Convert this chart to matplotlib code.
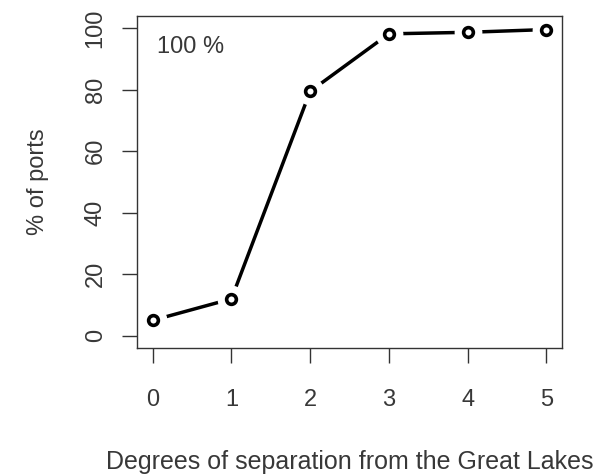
import matplotlib
matplotlib.use('Agg')
import matplotlib.pyplot as plt

# degrees of separation vs cumulative % of ports
degrees = [0, 1, 2, 3, 4, 5]
pct_ports = [5.0, 12.0, 79.5, 98.2, 98.7, 99.6]
x_ticks = [0, 1, 2, 3, 4, 5]
y_ticks = [0, 20, 40, 60, 80, 100]

plt.rcParams['font.family'] = ['Liberation Sans', 'DejaVu Sans']
txt_col = '#383838'

fig = plt.figure(figsize=(6.07, 4.74), dpi=100)
ax = fig.add_axes([0.2257, 0.2658, 0.7002, 0.7004])

# line, then white discs to cut gaps (R type="b"), then open circles
ax.plot(degrees, pct_ports, color='black', lw=2.5, solid_capstyle='butt', zorder=1)
ax.plot(degrees, pct_ports, ls='none', marker='o', ms=20, mfc='white', mec='none', zorder=2)
ax.plot(degrees, pct_ports, ls='none', marker='o', ms=7, mfc='white',
        mec='black', mew=2.6, zorder=3)

ax.set_xlim(-0.2, 5.2)
ax.set_ylim(-4, 104)
ax.set_xticks(x_ticks)
ax.set_yticks(y_ticks)
ax.set_yticklabels([str(v) for v in y_ticks], rotation=90, va='center')

for side in ax.spines.values():
    side.set_color('#333333')
    side.set_linewidth(1.0)
ax.tick_params(axis='both', length=10.8, width=1.0, color='#333333',
               labelsize=17, labelcolor=txt_col)
ax.tick_params(axis='x', pad=18.5)
ax.tick_params(axis='y', pad=11)

ax.text(0.06, 94, '100 %', fontsize=17, color=txt_col, ha='left', va='center')

ax.set_xlabel('Degrees of separation from the Great Lakes', fontsize=18,
              color=txt_col, labelpad=28)
ax.set_ylabel('% of ports', fontsize=17, color=txt_col, labelpad=26)

fig.savefig('out.png', dpi=100)
